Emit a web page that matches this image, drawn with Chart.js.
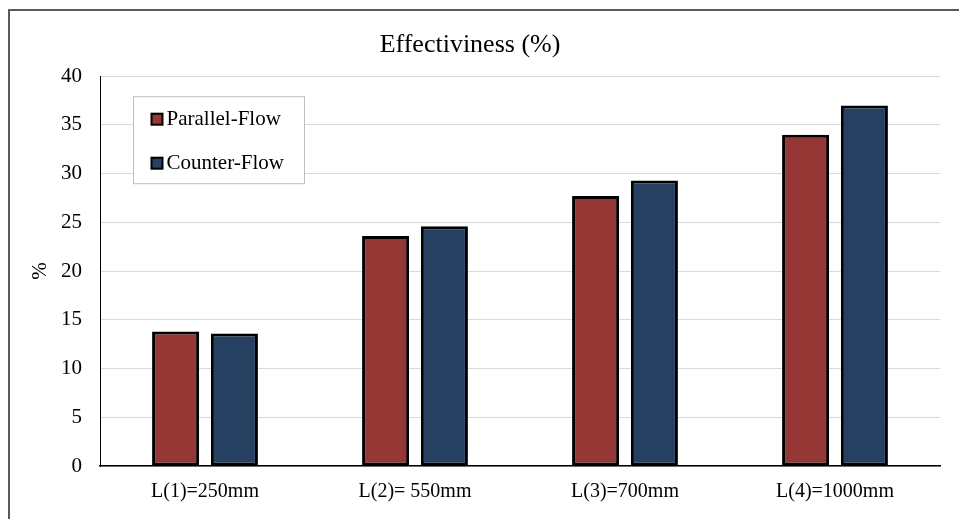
<!DOCTYPE html>
<html>
<head>
<meta charset="utf-8">
<script src="https://cdn.jsdelivr.net/npm/chart.js@4/dist/chart.umd.min.js"></script>
<style>
  html, body { margin: 0; padding: 0; background: #ffffff; }
  #wrap { width: 959px; height: 519px; }
</style>
</head>
<body>
<div id="wrap"><canvas id="c" width="959" height="519"></canvas></div>
<script>
// Heat exchanger effectiveness by tube length
const categories = ['L(1)=250mm', 'L(2)= 550mm', 'L(3)=700mm', 'L(4)=1000mm'];
const parallelFlow = [13.8, 23.6, 27.7, 34.0];
const counterFlow = [13.6, 24.6, 29.3, 37.0];
const seriesNames = ['Parallel-Flow', 'Counter-Flow'];
const chartTitle = 'Effectiviness (%)';
const yAxisTitle = '%';

const SERIF = '"Liberation Serif", "Times New Roman", serif';

// White background with the outer frame line along the top and left
const framePlugin = {
  id: 'frame',
  beforeDraw(chart) {
    const ctx = chart.ctx;
    ctx.save();
    ctx.fillStyle = '#ffffff';
    ctx.fillRect(0, 0, chart.width, chart.height);
    ctx.strokeStyle = '#5a5a5a';
    ctx.lineWidth = 2;
    ctx.strokeRect(9, 10, chart.width + 20, chart.height + 20);
    ctx.restore();
  }
};

// Boxed legend sitting inside the plot area, top-left
const boxLegendPlugin = {
  id: 'boxLegend',
  afterDatasetsDraw(chart) {
    const ctx = chart.ctx;
    const area = chart.chartArea;
    const x0 = area.left + 33.5, y0 = area.top + 20.5, w = 171, h = 87;
    ctx.save();
    ctx.fillStyle = '#ffffff';
    ctx.fillRect(x0, y0, w, h);
    ctx.strokeStyle = '#bfbfbf';
    ctx.lineWidth = 1;
    ctx.strokeRect(x0, y0, w, h);
    ctx.font = '21px ' + SERIF;
    ctx.textBaseline = 'middle';
    ctx.textAlign = 'left';
    chart.data.datasets.forEach((ds, i) => {
      const cy = y0 + 22.5 + i * 44;
      ctx.fillStyle = ds.backgroundColor;
      ctx.fillRect(x0 + 18, cy - 5.5, 11, 11);
      ctx.strokeStyle = '#000000';
      ctx.lineWidth = 2;
      ctx.strokeRect(x0 + 18, cy - 5.5, 11, 11);
      ctx.fillStyle = '#000000';
      ctx.fillText(ds.label, x0 + 33, cy);
    });
    ctx.restore();
  }
};

new Chart(document.getElementById('c'), {
  type: 'bar',
  data: {
    labels: categories,
    datasets: [
      {
        label: seriesNames[0],
        data: parallelFlow,
        backgroundColor: '#943735',
        borderColor: '#000000',
        borderWidth: 3,
        borderSkipped: false
      },
      {
        label: seriesNames[1],
        data: counterFlow,
        backgroundColor: '#254061',
        borderColor: '#000000',
        borderWidth: 3,
        borderSkipped: false
      }
    ]
  },
  options: {
    responsive: false,
    animation: false,
    devicePixelRatio: 1,
    layout: { padding: { left: 0, right: 19, top: 0, bottom: 0 } },
    datasets: {
      bar: { barPercentage: 0.8, categoryPercentage: 0.56 }
    },
    plugins: {
      legend: { display: false },
      tooltip: { enabled: false },
      title: {
        display: true,
        text: chartTitle,
        color: '#000000',
        font: { family: SERIF, size: 26, weight: 'normal', lineHeight: 1.2 },
        padding: { top: 30, bottom: 15 }
      }
    },
    scales: {
      x: {
        grid: { display: false, drawTicks: false },
        border: { display: true, color: '#000000', width: 1.5 },
        ticks: {
          color: '#000000',
          font: { family: SERIF, size: 20, lineHeight: 1.2 },
          padding: 14,
          maxRotation: 0,
          autoSkip: false
        },
        afterFit(scale) { scale.height = 53; }
      },
      y: {
        min: 0,
        max: 40,
        ticks: {
          stepSize: 5,
          color: '#000000',
          font: { family: SERIF, size: 21, lineHeight: 1.2 },
          padding: 18
        },
        grid: { color: '#d9d9d9', lineWidth: 1, drawTicks: false },
        border: { display: true, color: '#000000', width: 1 },
        title: {
          display: true,
          text: yAxisTitle,
          color: '#000000',
          font: { family: SERIF, size: 21, lineHeight: 1.2 },
          padding: { top: 28, bottom: 0 }
        },
        afterFit(scale) { scale.width = 100; }
      }
    }
  },
  plugins: [framePlugin, boxLegendPlugin]
});
</script>
</body>
</html>
